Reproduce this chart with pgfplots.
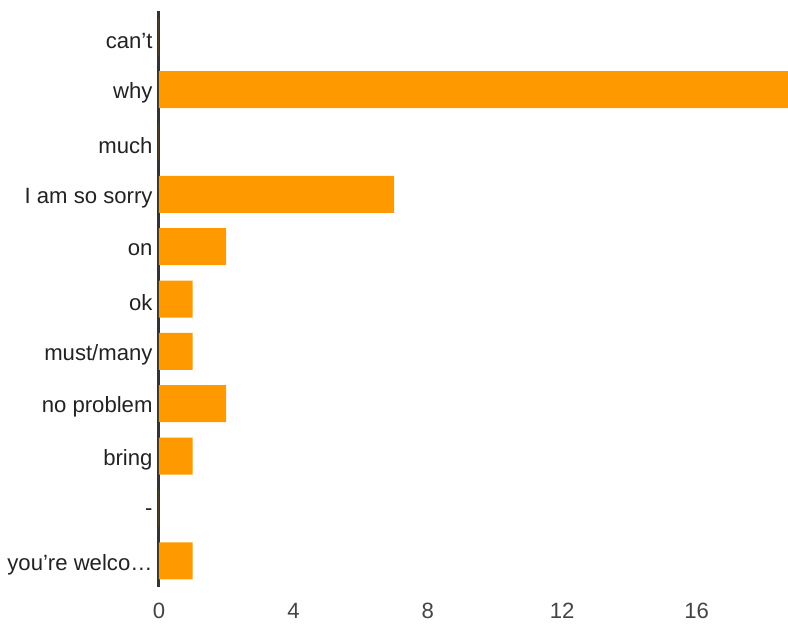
\documentclass[border=0pt]{standalone}
\usepackage{pgfplots}
\pgfplotsset{compat=1.18}
\usepackage{fontspec}
\setmainfont{Liberation Sans}
\definecolor{barorange}{HTML}{FF9900}
\definecolor{axisdark}{HTML}{333333}
\definecolor{labdark}{HTML}{222222}
\definecolor{tickgray}{HTML}{444444}
\begin{document}
\begin{tikzpicture}
\useasboundingbox (-159bp,-38bp) rectangle (629bp,587bp);
\begin{axis}[
  at={(0,0)}, anchor=south west,
  scale only axis,
  width=629bp, height=576bp,
  xbar, bar width=37bp,
  xmin=0, xmax=18.72,
  ymin=-0.5, ymax=10.5,
  y dir=reverse,
  xtick={0,4,8,12,16},
  ytick={0,1,2,3,4,5,6,7,8,9,10},
  yticklabels={can’t, why, much, I am so sorry, on, ok, must/many, no problem, bring, -, you’re welco…},
  axis lines*=left,
  x axis line style={draw=none},
  y axis line style={line width=3bp, color=axisdark, shorten <=0pt},
  major tick length=0pt,
  /pgf/number format/assume math mode=true,
  ticklabel style={font=\fontsize{22.2}{27}\selectfont},
  xticklabel style={color=tickgray, yshift=-13bp},
  yticklabel style={color=labdark, xshift=-3bp, yshift=-3.5bp},
  clip=true,
]
\addplot[fill=barorange, draw=none] coordinates {
  (0,0) (19,1) (0,2) (7,3) (2,4) (1,5) (1,6) (2,7) (1,8) (0,9) (1,10)
};
\end{axis}
\end{tikzpicture}
\end{document}
